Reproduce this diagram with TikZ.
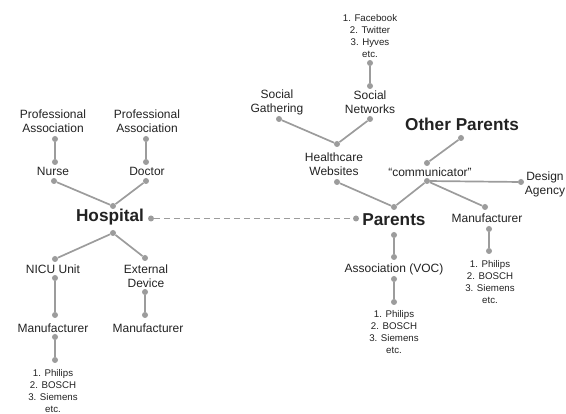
\documentclass[tikz,border=0pt]{standalone}
\usepackage{fontspec}
\setmainfont{Liberation Sans}
\usepackage{xcolor}
\usetikzlibrary{arrows.meta,positioning}
\definecolor{linegray}{HTML}{9C9C9C}
\definecolor{textgray}{HTML}{222222}

\begin{document}
\begin{tikzpicture}[
  x=1pt,y=-1pt,
  lbl/.style={align=center,inner sep=0pt,text=textgray,
    font=\fontsize{12}{14}\selectfont},
  big/.style={lbl,font=\fontsize{17.2}{20}\selectfont\bfseries},
  list/.style={lbl,font=\fontsize{9.7}{12}\selectfont},
  dot/.style={circle,fill=linegray,inner sep=0pt,minimum size=6pt},
  edge/.style={draw=linegray,line width=1.7pt},
  dashedge/.style={draw=linegray,line width=1.4pt,dash pattern=on 6pt off 4pt}
]
\useasboundingbox (0,0) rectangle (566,414);

% hospital side
\node[lbl] (pa1) at (53,121) {Professional\\Association};
\node[lbl] (pa2) at (147,121) {Professional\\Association};
\node[lbl] (nurse) at (53,171) {Nurse};
\node[lbl] (doctor) at (147,171) {Doctor};
\node[big] (hospital) at (110,217) {Hospital};
\node[lbl] (nicu) at (53,269) {NICU Unit};
\node[lbl] (extdev) at (146,276) {External\\Device};
\node[lbl] (manl) at (53,328) {Manufacturer};
\node[lbl] (manm) at (148,328) {Manufacturer};
\node[list] (brandsl) at (53,391) {1. Philips\\2. BOSCH\\3. Siemens\\etc.};

\node[dot] (pa1-s) at (55,139) {};
\node[dot] (nurse-n) at (55,162) {};
\node[dot] (nurse-s) at (54,181) {};
\node[dot] (pa2-s) at (146,139) {};
\node[dot] (doctor-n) at (146,162) {};
\node[dot] (doctor-s) at (146,181) {};
\node[dot] (hospital-n) at (113,206) {};
\node[dot] (hospital-e) at (151,218.5) {};
\node[dot] (hospital-s) at (113,233) {};
\node[dot] (nicu-n) at (55,259) {};
\node[dot] (nicu-s) at (55,278) {};
\node[dot] (extdev-n) at (145,258) {};
\node[dot] (extdev-s) at (145,292) {};
\node[dot] (manl-n) at (55,315) {};
\node[dot] (manl-s) at (55,337) {};
\node[dot] (manm-n) at (145,315) {};
\node[dot] (brandsl-n) at (55,360) {};

\draw[edge] (pa1-s) -- (nurse-n);
\draw[edge] (pa2-s) -- (doctor-n);
\draw[edge] (nurse-s) -- (hospital-n);
\draw[edge] (doctor-s) -- (hospital-n);
\draw[edge] (hospital-s) -- (nicu-n);
\draw[edge] (hospital-s) -- (extdev-n);
\draw[edge] (nicu-s) -- (manl-n);
\draw[edge] (extdev-s) -- (manm-n);
\draw[edge] (manl-s) -- (brandsl-n);

% parents side
\node[list] (brandsn) at (370,36) {1. Facebook\\2. Twitter\\3. Hyves\\etc.};
\node[lbl] (socnet) at (370,102) {Social\\Networks};
\node[lbl] (socgath) at (277,102) {Social\\Gathering};
\node[lbl] (health) at (334,164) {Healthcare\\Websites};
\node[big] (other) at (462,124) {Other Parents};
\node[lbl] (comm) at (430,172) {\char"201Ccommunicator\char"201D};
\node[lbl] (design) at (545,184) {Design\\Agency};
\node[big] (parents) at (394,220) {Parents};
\node[lbl] (manr) at (487,218) {Manufacturer};
\node[lbl] (voc) at (394,269) {Association (VOC)};
\node[list] (brandsr) at (490,282) {1. Philips\\2. BOSCH\\3. Siemens\\etc.};
\node[list] (brandsv) at (394,332) {1. Philips\\2. BOSCH\\3. Siemens\\etc.};

\node[dot] (brandsn-s) at (370,63) {};
\node[dot] (socnet-n) at (370,86) {};
\node[dot] (socnet-s) at (370,119) {};
\node[dot] (socgath-s) at (279,119) {};
\node[dot] (health-n) at (337,144) {};
\node[dot] (health-s) at (337,182) {};
\node[dot] (other-s) at (461,138) {};
\node[dot] (comm-n) at (427,163) {};
\node[dot] (comm-s) at (427,181) {};
\node[dot] (design-w) at (521,182) {};
\node[dot] (manr-n) at (485,207) {};
\node[dot] (manr-s) at (489,229) {};
\node[dot] (brandsr-n) at (489,251) {};
\node[dot] (parents-n) at (394,207) {};
\node[dot] (parents-w) at (356,218.5) {};
\node[dot] (parents-s) at (394,235) {};
\node[dot] (voc-n) at (394,257) {};
\node[dot] (voc-s) at (394,279) {};
\node[dot] (brandsv-n) at (394,302) {};

\draw[edge] (brandsn-s) -- (socnet-n);
\draw[edge] (socnet-s) -- (health-n);
\draw[edge] (socgath-s) -- (health-n);
\draw[edge] (health-s) -- (parents-n);
\draw[edge] (other-s) -- (comm-n);
\draw[edge] (comm-s) -- (parents-n);
\draw[edge] (comm-s) -- (design-w);
\draw[edge] (comm-s) -- (manr-n);
\draw[edge] (manr-s) -- (brandsr-n);
\draw[edge] (parents-s) -- (voc-n);
\draw[edge] (voc-s) -- (brandsv-n);

% link between the two groups
\draw[dashedge] (hospital-e) -- (parents-w);
\end{tikzpicture}
\end{document}
